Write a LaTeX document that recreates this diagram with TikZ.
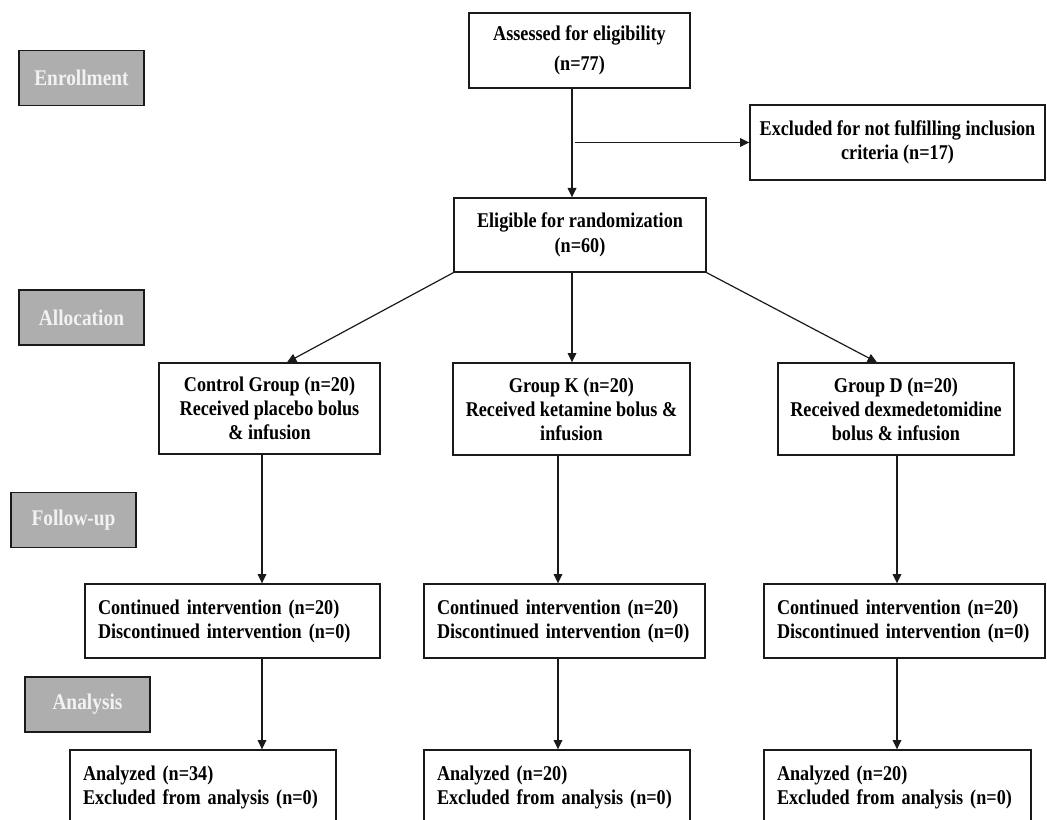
\documentclass[tikz,border=0pt]{standalone}
\usepackage{fontspec}
\setmainfont{Liberation Serif}[FakeStretch=0.865]
\usetikzlibrary{arrows.meta,calc}
\definecolor{lbl}{HTML}{AEAEAE}
\definecolor{lbltext}{HTML}{F2F2F2}
\definecolor{edge}{HTML}{1A1A1A}
\begin{document}
\begin{tikzpicture}[x=0.75pt,y=-0.75pt,
  font=\fontsize{15.75pt}{18pt}\selectfont\bfseries,
  box/.style 2 args={draw=edge,line width=1pt,fill=white,inner sep=0pt,align=center,
    minimum width=#1*0.75pt,minimum height=#2*0.75pt},
  lbox/.style 2 args={draw=edge,line width=1pt,fill=white,inner xsep=13*0.75pt,inner ysep=0pt,
    text width=(#1-26)*0.75pt,align=left,minimum height=#2*0.75pt},
  phase/.style={draw=edge,line width=1.3pt,fill=lbl,text=lbltext,
    font=\fontsize{16.8pt}{19pt}\selectfont\bfseries,
    minimum width=125*0.75pt,minimum height=55*0.75pt,inner sep=0pt},
  arr/.style={draw=edge,line width=0.9pt,-{Triangle[length=7pt,width=6.5pt]}}
]
\useasboundingbox (0,0) rectangle (1047,820);
\clip (0,0) rectangle (1047,820);

% phase labels
\node[phase] (enr) at (81.5,78) {Enrollment};
\node[phase] (alloc) at (81.5,317.5) {Allocation};
\node[phase] (fol) at (73.5,520) {Follow-up};
\node[phase] (anal) at (87.5,704.5) {Analysis};

% top boxes
\node[box={221}{75}] (assess) at (579.5,50.5) {Assessed for eligibility\\[4pt](n=77)};
\node[box={295}{75}] (excl) at (897.5,142.5) {Excluded for not fulfilling inclusion\\criteria (n=17)};
\node[box={252}{74}] (elig) at (580,235) {Eligible for randomization\\[1pt](n=60)};

% groups
\node[box={221}{91}] (ctrl) at (269.5,408.5) {Control Group (n=20)\\Received placebo bolus\\\& infusion};
\node[box={237}{92}] (gk) at (571.5,409) {Group K (n=20)\\Received ketamine bolus \&\\infusion};
\node[box={236}{92}] (gd) at (896,409) {Group D (n=20)\\Received dexmedetomidine\\bolus \& infusion};

% follow-up
\node[lbox={295}{74}] (cc) at (232.5,621) {Continued intervention (n=20)\\Discontinued intervention (n=0)};
\node[lbox={281}{74}] (ck) at (564.5,621) {Continued intervention (n=20)\\Discontinued intervention (n=0)};
\node[lbox={281}{74}] (cd) at (904.5,621) {Continued intervention (n=20)\\Discontinued intervention (n=0)};

% analysis
\node[lbox={266}{74}] (ac) at (203,787) {Analyzed (n=34)\\Excluded from analysis (n=0)};
\node[lbox={266}{74}] (ak) at (557,787) {Analyzed (n=20)\\Excluded from analysis (n=0)};
\node[lbox={267}{74}] (ad) at (897.5,787) {Analyzed (n=20)\\Excluded from analysis (n=0)};

% connectors
\coordinate (vx) at (572,0);
\coordinate (cx) at (262,0);
\coordinate (kx) at (558,0);
\coordinate (dx) at (897,0);

\draw[arr] (vx |- assess.south) -- (vx |- elig.north);
\draw[arr] ($(vx |- excl.west)+(3,0)$) -- (excl.west);
\draw[arr] (elig.south west) -- ($(ctrl.north)+(17.5,0)$);
\draw[arr] (vx |- elig.south) -- (vx |- gk.north);
\draw[arr] (elig.south east) -- ($(gd.north)+(-19,0)$);

\draw[arr] (cx |- ctrl.south) -- (cx |- cc.north);
\draw[arr] (kx |- gk.south) -- (kx |- ck.north);
\draw[arr] (dx |- gd.south) -- (dx |- cd.north);

\draw[arr] (cx |- cc.south) -- (cx |- ac.north);
\draw[arr] (kx |- ck.south) -- (kx |- ak.north);
\draw[arr] (dx |- cd.south) -- (dx |- ad.north);
\end{tikzpicture}
\end{document}
